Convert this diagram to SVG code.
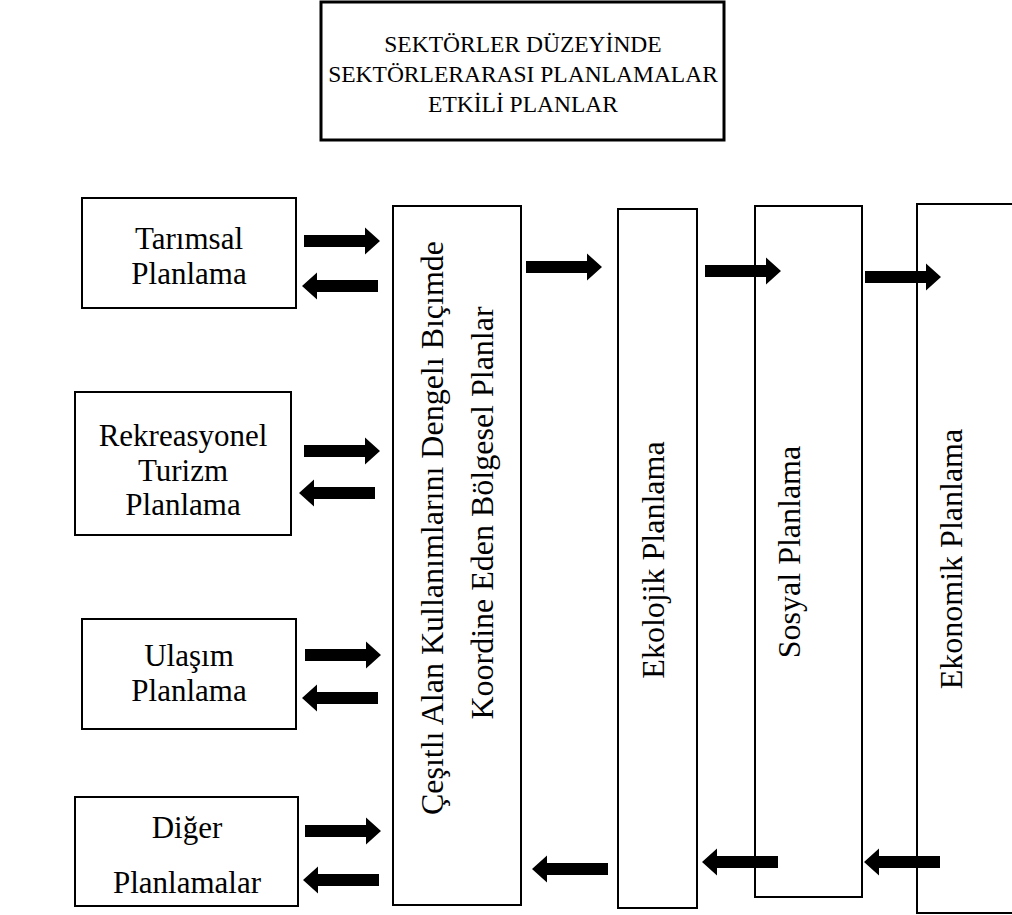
<svg xmlns="http://www.w3.org/2000/svg" xmlns:xlink="http://www.w3.org/1999/xlink" width="1012" height="915" viewBox="0 0 1012 915">
<style>
.box{fill:#fff;stroke:#000;stroke-width:2}
.top{fill:#fff;stroke:#000;stroke-width:3}
.t{font-family:"Liberation Serif","Times New Roman",serif;font-size:31px;fill:#000;text-anchor:middle}
.th{font-family:"Liberation Serif","Times New Roman",serif;font-size:23.5px;fill:#000;text-anchor:middle}
.tv{font-family:"Liberation Serif","Times New Roman",serif;font-size:32px;fill:#000;text-anchor:middle}
.arr{fill:#000}
</style>
<defs>
<path id="arrow" d="M0,-6 H61 V-13.5 L76,0 L61,13.5 V6 H0 Z"/>
</defs>
<rect width="1012" height="915" fill="#fff"/>
<g id="header">
<rect class="top" x="321" y="2" width="403" height="138"/>
<text class="th" x="523" y="52">SEKTÖRLER DÜZEYİNDE</text>
<text class="th" x="523" y="82">SEKTÖRLERARASI PLANLAMALAR</text>
<text class="th" x="523" y="112">ETKİLİ PLANLAR</text>
</g>
<g id="tarimsal">
<rect class="box" x="82" y="198" width="214" height="110"/>
<text class="t" x="189" y="249">Tarımsal</text>
<text class="t" x="189" y="284">Planlama</text>
</g>
<g id="rekreasyonel">
<rect class="box" x="75" y="392" width="216" height="143"/>
<text class="t" x="183" y="446">Rekreasyonel</text>
<text class="t" x="183" y="481">Turizm</text>
<text class="t" x="183" y="515">Planlama</text>
</g>
<g id="ulasim">
<rect class="box" x="82" y="619" width="214" height="110"/>
<text class="t" x="189" y="666">Ulaşım</text>
<text class="t" x="189" y="701">Planlama</text>
</g>
<g id="diger">
<rect class="box" x="75" y="797" width="223" height="109"/>
<text class="t" x="187" y="838">Diğer</text>
<text class="t" x="187" y="893">Planlamalar</text>
</g>
<g id="bolgesel">
<rect class="box" x="393" y="206" width="128" height="699"/>
<text class="tv" transform="translate(443,528) rotate(-90)">Çeşıtlı Alan Kullanımlarını Dengelı Bıçımde</text>
<text class="tv" transform="translate(493,513) rotate(-90)">Koordine Eden Bölgesel Planlar</text>
</g>
<g id="ekolojik">
<rect class="box" x="618" y="209" width="79" height="699"/>
<text class="tv" transform="translate(664,560) rotate(-90)">Ekolojik Planlama</text>
</g>
<g id="sosyal">
<rect class="box" x="755" y="206" width="107" height="691"/>
<text class="tv" transform="translate(800,552) rotate(-90)">Sosyal Planlama</text>
</g>
<g id="ekonomik">
<rect class="box" x="917" y="204" width="110" height="709"/>
<text class="tv" transform="translate(962,559) rotate(-90)">Ekonomik Planlama</text>
</g>
<g id="connectors" class="arr">
<use xlink:href="#arrow" transform="translate(304,241)"/>
<use xlink:href="#arrow" transform="translate(378,286) scale(-1,1)"/>
<use xlink:href="#arrow" transform="translate(304,451)"/>
<use xlink:href="#arrow" transform="translate(375,493) scale(-1,1)"/>
<use xlink:href="#arrow" transform="translate(305,655)"/>
<use xlink:href="#arrow" transform="translate(378,698) scale(-1,1)"/>
<use xlink:href="#arrow" transform="translate(305,831)"/>
<use xlink:href="#arrow" transform="translate(379,880) scale(-1,1)"/>
<use xlink:href="#arrow" transform="translate(526,267)"/>
<use xlink:href="#arrow" transform="translate(705,271)"/>
<use xlink:href="#arrow" transform="translate(865,277)"/>
<use xlink:href="#arrow" transform="translate(608,869) scale(-1,1)"/>
<use xlink:href="#arrow" transform="translate(778,862) scale(-1,1)"/>
<use xlink:href="#arrow" transform="translate(940,862) scale(-1,1)"/>
</g>
</svg>
